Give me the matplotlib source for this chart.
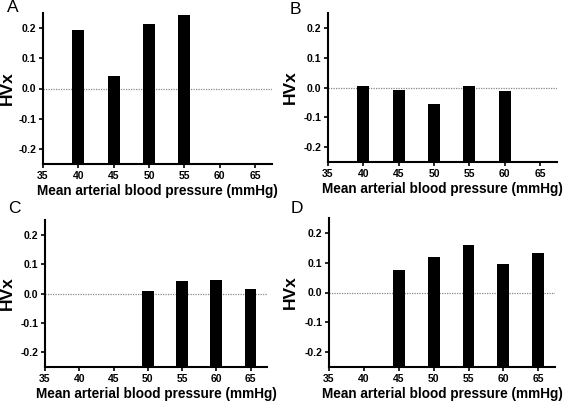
import matplotlib
matplotlib.use("Agg")
import matplotlib.pyplot as plt
from matplotlib.ticker import FormatStrFormatter

plt.rcParams['font.family'] = ['Liberation Sans', 'DejaVu Sans']
plt.rcParams['axes.unicode_minus'] = False

xA = [40, 45, 50, 55]
yA = [0.195, 0.042, 0.214, 0.242]
xB = [40, 45, 50, 55, 60]
yB = [0.004, -0.010, -0.057, 0.004, -0.012]
xC = [50, 55, 60, 65]
yC = [0.007, 0.044, 0.047, 0.015]
xD = [45, 50, 55, 60, 65]
yD = [0.076, 0.120, 0.158, 0.096, 0.133]
xticks = [35, 40, 45, 50, 55, 60, 65]
yticks = [-0.2, -0.1, 0.0, 0.1, 0.2]
panels = ['A', 'B', 'C', 'D']
xlabel = 'Mean arterial blood pressure (mmHg)'
ylabel = 'HVx'

W, H = 567, 405
fig = plt.figure(figsize=(W/100, H/100), dpi=100)

# pixel boxes: left, right, top, bottom
boxes = [(43, 272, 13, 164), (328, 557, 13, 162), (45, 267, 220, 367), (329, 555, 218, 367)]
letter_pos = [(7, 12), (290, 14), (8, 213), (291, 213)]
ylab_x = [15, 298, 15, 298]
data = [(xA, yA), (xB, yB), (xC, yC), (xD, yD)]
ymin, ymax = -0.25, 0.25

for (l, r, t, b), (xs, ys), lab, (lx, ly), yx in zip(boxes, data, panels, letter_pos, ylab_x):
    ax = fig.add_axes([l/W, 1-b/H, (r-l)/W, (b-t)/H])
    ax.bar(xs, [v - ymin for v in ys], bottom=ymin, width=1.7, color='black')
    ax.axhline(0, color='#888888', lw=0.9, ls=(0, (1, 1)), zorder=0)
    ax.set_xlim(35, 67.4)
    ax.set_ylim(ymin, ymax)
    ax.set_xticks(xticks)
    ax.set_yticks(yticks)
    ax.yaxis.set_major_formatter(FormatStrFormatter('%.1f'))
    for s in ['top', 'right']:
        ax.spines[s].set_visible(False)
    for s in ['left', 'bottom']:
        ax.spines[s].set_linewidth(1.5)
    ax.tick_params(direction='out', length=3, width=1.2, labelsize=7.5, pad=2)
    for tl in ax.get_xticklabels() + ax.get_yticklabels():
        tl.set_fontweight('bold')
    ax.set_xlabel(xlabel, fontsize=9.8, fontweight='bold', labelpad=2)
    ax.set_ylabel(ylabel, fontsize=12.5, fontweight='bold')
    ax.yaxis.set_label_coords(-(l - yx)/(r - l), 0.5)
    fig.text(lx/W, 1-ly/H, lab, fontsize=12.5, ha='left', va='baseline')

fig.savefig('out.png', dpi=100)
